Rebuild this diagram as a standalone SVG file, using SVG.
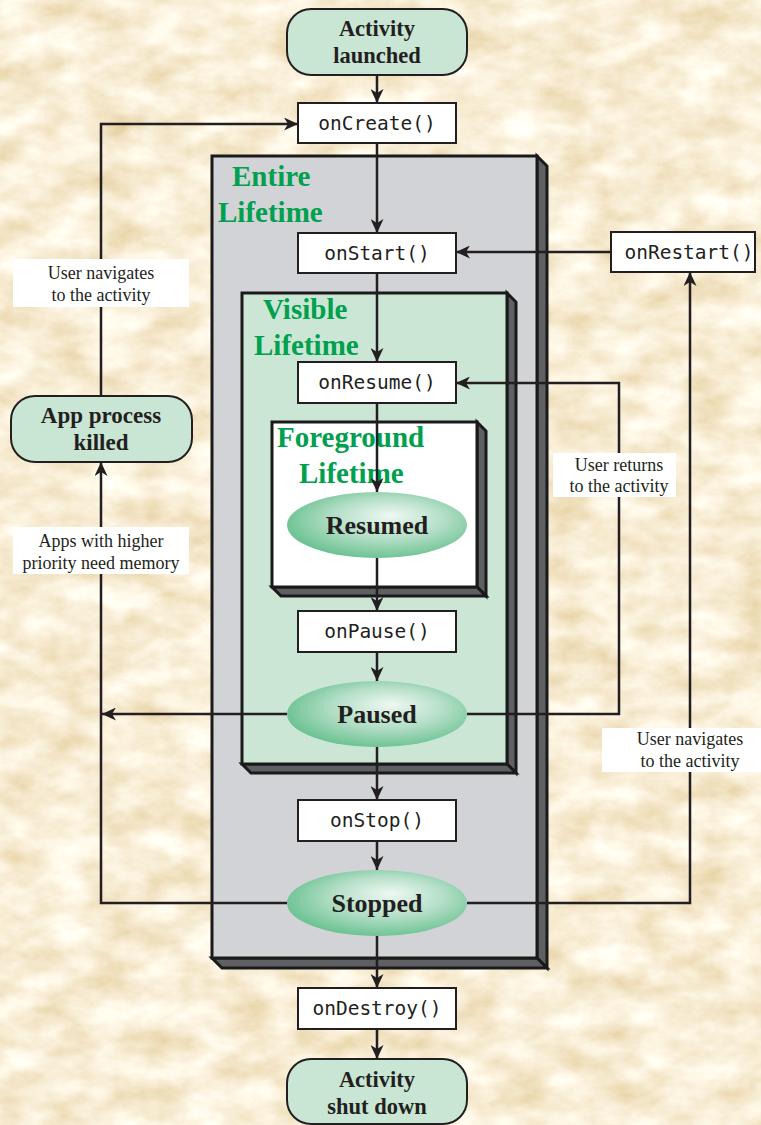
<svg xmlns="http://www.w3.org/2000/svg" width="761" height="1125" viewBox="0 0 761 1125">
  <defs>
    <style>
      .state { fill: #c9e5d4; stroke: #231f20; stroke-width: 2; }
      .method { fill: #ffffff; stroke: #231f20; stroke-width: 2; }
      .mono { font-family: "DejaVu Sans Mono", "Liberation Mono", monospace; font-size: 19.5px; fill: #231f20; text-anchor: middle; }
      .bold { font-family: "Liberation Serif", "Times New Roman", serif; font-weight: bold; fill: #231f20; text-anchor: middle; }
      .note { font-family: "Liberation Serif", "Times New Roman", serif; font-size: 18px; fill: #231f20; text-anchor: middle; }
      .notebox { fill: #ffffff; }
      .life { font-family: "Liberation Serif", "Times New Roman", serif; font-weight: bold; font-size: 29px; fill: #00a04e; }
      .face { stroke: #1a1a1a; stroke-width: 3; stroke-linejoin: miter; }
      .side { fill: #5f6064; stroke: #1a1a1a; stroke-width: 3; stroke-linejoin: miter; }
      .wire { fill: none; stroke: #231f20; stroke-width: 2.5; }
      .arrow { marker-end: url(#head); }
    </style>
    <marker id="head" markerUnits="userSpaceOnUse" markerWidth="15" markerHeight="13" refX="14" refY="6.5" orient="auto">
      <path d="M0,0 L14,6.5 L0,13 L4,6.5 Z" fill="#231f20"/>
    </marker>
    <radialGradient id="oval" cx="0.55" cy="0.45" r="0.62" fx="0.58" fy="0.35">
      <stop offset="0" stop-color="#eef8f2"/>
      <stop offset="0.5" stop-color="#b3dec6"/>
      <stop offset="1" stop-color="#5fbd89"/>
    </radialGradient>
    <filter id="paper" filterUnits="userSpaceOnUse" x="0" y="0" width="761" height="1125">
      <feTurbulence type="fractalNoise" baseFrequency="0.022 0.036" numOctaves="6" seed="11" result="n"/>
      <feColorMatrix in="n" type="matrix" values="0.35 0 0 0 0.765  0.5 0 0 0 0.60  0.75 0 0 0 0.295  0 0 0 0 1"/>
    </filter>
  </defs>

  <!-- parchment background -->
  <rect x="0" y="0" width="761" height="1125" fill="#f0d9aa"/>
  <rect x="0" y="0" width="761" height="1125" filter="url(#paper)"/>

  <!-- lifetime regions -->
  <g id="entire-lifetime">
    <polygon class="side" points="537,156 547,166 547,968 537,958"/>
    <polygon class="side" points="212,958 537,958 547,968 222,968"/>
    <rect class="face" x="212" y="156" width="325" height="802" fill="#d1d3d6"/>
    <text class="life" x="232" y="186">Entire</text>
    <text class="life" x="218" y="222">Lifetime</text>
  </g>
  <g id="visible-lifetime">
    <polygon class="side" points="507,293 516,302 516,773 507,764"/>
    <polygon class="side" points="242,764 507,764 516,773 251,773"/>
    <rect class="face" x="242" y="293" width="265" height="471" fill="#cbe6d5"/>
    <text class="life" x="263" y="319">Visible</text>
    <text class="life" x="254" y="355">Lifetime</text>
  </g>
  <g id="foreground-lifetime">
    <polygon class="side" points="477,422 486,431 486,596 477,587"/>
    <polygon class="side" points="272,587 477,587 486,596 281,596"/>
    <rect class="face" x="272" y="422" width="205" height="165" fill="#ffffff"/>
    <text class="life" x="277" y="447">Foreground</text>
    <text class="life" x="299" y="483">Lifetime</text>
  </g>

  <!-- connectors -->
  <g id="connectors">
    <path class="wire arrow" d="M377,75 V103"/>
    <path class="wire arrow" d="M377,143 V233"/>
    <path class="wire arrow" d="M377,273 V362"/>
    <path class="wire arrow" d="M377,403 V492"/>
    <path class="wire arrow" d="M377,558 V611"/>
    <path class="wire arrow" d="M377,652 V681"/>
    <path class="wire arrow" d="M377,747 V800"/>
    <path class="wire arrow" d="M377,841 V870"/>
    <path class="wire arrow" d="M377,936 V988"/>
    <path class="wire arrow" d="M377,1029 V1059"/>
    <path class="wire arrow" d="M611,252 H456"/>
    <path class="wire arrow" d="M467,714 H619 V383 H456"/>
    <path class="wire arrow" d="M467,903 H690 V272"/>
    <path class="wire arrow" d="M287,714 H102"/>
    <path class="wire arrow" d="M287,903 H101 V462"/>
    <path class="wire arrow" d="M101,396 V124 H298"/>
  </g>

  <!-- transition notes -->
  <g id="note-left-navigate">
    <rect class="notebox" x="13" y="259" width="176" height="48"/>
    <text class="note" x="101" y="279">User navigates</text>
    <text class="note" x="101" y="301">to the activity</text>
  </g>
  <g id="note-memory">
    <rect class="notebox" x="13" y="527" width="176" height="47"/>
    <text class="note" x="101" y="547">Apps with higher</text>
    <text class="note" x="101" y="569">priority need memory</text>
  </g>
  <g id="note-returns">
    <rect class="notebox" x="553" y="453" width="123" height="44"/>
    <text class="note" x="619" y="471">User returns</text>
    <text class="note" x="619" y="492">to the activity</text>
  </g>
  <g id="note-right-navigate">
    <rect class="notebox" x="602" y="728" width="176" height="44"/>
    <text class="note" x="690" y="745">User navigates</text>
    <text class="note" x="690" y="767">to the activity</text>
  </g>

  <!-- states and callbacks -->
  <g id="activity-launched">
    <rect class="state" x="287" y="9" width="180" height="66" rx="24"/>
    <text class="bold" x="377" y="36" font-size="22.5">Activity</text>
    <text class="bold" x="377" y="63" font-size="22.5">launched</text>
  </g>
  <g id="on-create">
    <rect class="method" x="298" y="103" width="158" height="40"/>
    <text class="mono" x="377" y="130">onCreate()</text>
  </g>
  <g id="on-start">
    <rect class="method" x="298" y="233" width="158" height="40"/>
    <text class="mono" x="377" y="260">onStart()</text>
  </g>
  <g id="on-restart">
    <rect class="method" x="611" y="232" width="144" height="40"/>
    <text class="mono" x="689" y="259">onRestart()</text>
  </g>
  <g id="on-resume">
    <rect class="method" x="298" y="362" width="158" height="41"/>
    <text class="mono" x="377" y="389">onResume()</text>
  </g>
  <g id="resumed">
    <ellipse cx="377" cy="525" rx="90" ry="33" fill="url(#oval)"/>
    <text class="bold" x="377" y="534" font-size="26">Resumed</text>
  </g>
  <g id="on-pause">
    <rect class="method" x="298" y="611" width="158" height="41"/>
    <text class="mono" x="377" y="638">onPause()</text>
  </g>
  <g id="paused">
    <ellipse cx="377" cy="714" rx="90" ry="33" fill="url(#oval)"/>
    <text class="bold" x="377" y="723" font-size="26">Paused</text>
  </g>
  <g id="on-stop">
    <rect class="method" x="298" y="800" width="158" height="41"/>
    <text class="mono" x="377" y="827">onStop()</text>
  </g>
  <g id="stopped">
    <ellipse cx="377" cy="903" rx="90" ry="33" fill="url(#oval)"/>
    <text class="bold" x="377" y="912" font-size="26">Stopped</text>
  </g>
  <g id="on-destroy">
    <rect class="method" x="298" y="988" width="158" height="41"/>
    <text class="mono" x="377" y="1015">onDestroy()</text>
  </g>
  <g id="activity-shut-down">
    <rect class="state" x="287" y="1059" width="180" height="65" rx="24"/>
    <text class="bold" x="377" y="1087" font-size="22.5">Activity</text>
    <text class="bold" x="377" y="1114" font-size="22.5">shut down</text>
  </g>
  <g id="app-process-killed">
    <rect class="state" x="11" y="396" width="181" height="66" rx="24"/>
    <text class="bold" x="101" y="423" font-size="23">App process</text>
    <text class="bold" x="101" y="450" font-size="23">killed</text>
  </g>
</svg>
